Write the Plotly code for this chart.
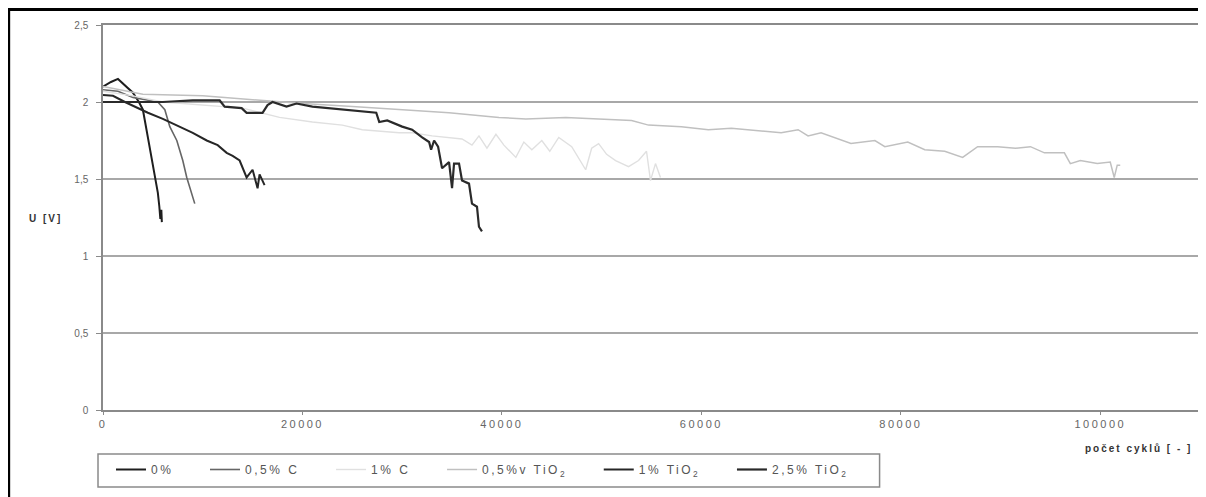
import plotly.graph_objects as go

# ---- data ----
names = ["0%", "0,5% C", "1% C", "0,5%v TiO<sub>2</sub>", "1% TiO<sub>2</sub>", "2,5% TiO<sub>2</sub>"]

x_0 = [0, 800, 1500, 2200, 3000, 3600, 4000, 4500, 5000, 5200, 5500, 5650, 5750, 5850, 5900]
u_0 = [2.10, 2.13, 2.15, 2.11, 2.06, 2.00, 1.95, 1.77, 1.60, 1.51, 1.41, 1.32, 1.24, 1.30, 1.22]

x_05C = [0, 1500, 3000, 4500, 5500, 6200, 6700, 7400, 7700, 8000, 8400, 8800, 9200]
u_05C = [2.08, 2.07, 2.03, 2.01, 2.00, 1.95, 1.84, 1.75, 1.69, 1.62, 1.51, 1.42, 1.34]

x_1C = [0, 3000, 6000, 10000, 14000, 17700, 21000, 24000, 26000, 29700, 31000, 33000,
        34400, 36000, 37000, 37700, 38500, 39400, 40200, 41400, 42200, 43000, 44000,
        44800, 45700, 47000, 48400, 49000, 49700, 50500, 51400, 52700, 53700, 54500,
        54900, 55400, 55900]
u_1C = [2.07, 2.04, 2.00, 1.98, 1.96, 1.90, 1.87, 1.85, 1.82, 1.80, 1.80, 1.78,
        1.77, 1.76, 1.72, 1.78, 1.70, 1.79, 1.72, 1.64, 1.74, 1.69, 1.75,
        1.68, 1.77, 1.71, 1.56, 1.70, 1.73, 1.66, 1.62, 1.58, 1.62, 1.68,
        1.49, 1.60, 1.51]

x_05T = [0, 4000, 10000, 14000, 20000, 25000, 29700, 34700, 39700, 42400, 46400, 50000,
         53000, 54700, 58000, 60700, 63000, 68000, 69700, 70700, 72000, 75000, 77400,
         78400, 80700, 82400, 84400, 86200, 87700, 89700, 91500, 93000, 94400, 96400,
         97000, 98000, 99700, 101000, 101400, 101700, 102000]
u_05T = [2.10, 2.05, 2.04, 2.02, 1.99, 1.97, 1.95, 1.93, 1.90, 1.89, 1.90, 1.89,
         1.88, 1.85, 1.84, 1.82, 1.83, 1.80, 1.82, 1.78, 1.80, 1.73, 1.75,
         1.71, 1.74, 1.69, 1.68, 1.64, 1.71, 1.71, 1.70, 1.71, 1.67, 1.67,
         1.60, 1.62, 1.60, 1.61, 1.51, 1.59, 1.59]

x_1T = [0, 1000, 2200, 3500, 4500, 6000, 7700, 9000, 10400, 11500, 12400, 13000,
        13700, 14400, 15000, 15500, 15700, 16200]
u_1T = [2.045, 2.04, 2.00, 1.96, 1.93, 1.89, 1.84, 1.80, 1.75, 1.72, 1.67, 1.65,
        1.62, 1.51, 1.56, 1.44, 1.53, 1.46]

x_25T = [0, 3000, 6000, 9000, 11700, 12200, 13900, 14400, 16000, 16500, 17000, 18400,
         19400, 21000, 24400, 27400, 27700, 28500, 30000, 31000, 32000, 32700, 32900,
         33200, 33600, 34000, 34700, 35000, 35200, 35700, 36000, 36700, 37000, 37500,
         37700, 38000]
u_25T = [2.00, 2.00, 2.00, 2.01, 2.01, 1.97, 1.96, 1.93, 1.93, 1.98, 2.00, 1.97,
         1.99, 1.97, 1.95, 1.93, 1.87, 1.88, 1.84, 1.82, 1.77, 1.74, 1.69,
         1.75, 1.71, 1.57, 1.61, 1.44, 1.60, 1.60, 1.49, 1.47, 1.34, 1.32,
         1.19, 1.16]

xs = [x_0, x_05C, x_1C, x_05T, x_1T, x_25T]
us = [u_0, u_05C, u_1C, u_05T, u_1T, u_25T]
colors = ["#1e1e1e", "#666666", "#e0e0e0", "#c0c0c0", "#262626", "#2a2a2a"]
widths = [2, 1.6, 1.4, 1.5, 2, 2.2]

x_ticks = [0, 20000, 40000, 60000, 80000, 100000]
y_ticks = [0, 0.5, 1, 1.5, 2, 2.5]
y_ticklabels = ["0", "0,5", "1", "1,5", "2", "2,5"]

NBSP = "\u00a0"


def spaced(txt, ls):
    return '<span style="letter-spacing:%spx">%s</span>' % (ls, txt)


fig = go.Figure()
for i, (n, x, u, c, w) in enumerate(zip(names, xs, us, colors, widths)):
    pad = NBSP * 8 if i < len(names) - 1 else ""
    fig.add_trace(go.Scatter(x=x, y=u, mode="lines", name=spaced(n, 2.5) + pad,
                             line=dict(color=c, width=w)))

FONT = "Liberation Sans, Arial, sans-serif"
# the page body has an 8 px margin: figure origin sits at (8, 8) of the window
OFF = 8
W, H = 1198, 489
L, R, T, B = 103 - OFF, 4, 25 - OFF, 87
pw = W - L - R
ph = H - T - B


def px_x(p):
    return (p - OFF - L) / pw


def px_y(p):
    return (H - B - (p - OFF)) / ph


fig.update_layout(
    width=W, height=H,
    margin=dict(l=L, r=R, t=T, b=B),
    paper_bgcolor="white", plot_bgcolor="white",
    font=dict(family=FONT, size=10, color="#555555"),
    showlegend=True,
    legend=dict(orientation="h", x=px_x(111), y=px_y(455), xanchor="left", yanchor="top",
                borderwidth=0, bgcolor="rgba(0,0,0,0)",
                font=dict(family=FONT, size=12, color="#555555")),
    xaxis=dict(range=[0, 110000], tickvals=x_ticks,
               ticktext=[spaced(str(v), 2.5) for v in x_ticks],
               showgrid=False, zeroline=False, showline=True, linecolor="#8a8a8a",
               linewidth=1.5, mirror=True, ticks="outside", ticklen=3,
               tickcolor="#8a8a8a", tickfont=dict(size=11, color="#666666")),
    yaxis=dict(range=[0, 2.5], tickvals=y_ticks, ticktext=y_ticklabels,
               showgrid=True, gridcolor="#a8a8a8", gridwidth=1.5, zeroline=False,
               showline=True, linecolor="#8a8a8a", linewidth=1.5, mirror=True,
               ticks="outside", ticklen=5, tickcolor="#8a8a8a", ticklabelstandoff=6,
               tickfont=dict(size=10, color="#666666")),
    annotations=[
        dict(text="<b>" + spaced("počet cyklů [ - ]", 2) + "</b>", xref="paper", yref="paper",
             x=px_x(1196), y=px_y(448), xanchor="right", yanchor="middle",
             showarrow=False, font=dict(family=FONT, size=10, color="#333333")),
        dict(text="<b>" + spaced("U [V]", 2) + "</b>", xref="paper", yref="paper",
             x=px_x(27), y=px_y(218), xanchor="left", yanchor="middle",
             showarrow=False, font=dict(family=FONT, size=10, color="#333333")),
    ],
    shapes=[
        # legend frame
        dict(type="rect", xref="paper", yref="paper", x0=px_x(98), x1=px_x(881),
             y0=px_y(487), y1=px_y(454), line=dict(color="#8a8a8a", width=1.5),
             layer="below"),
        # right edge of the plot frame
        dict(type="line", xref="paper", yref="paper", x0=1, x1=1, y0=0, y1=1,
             line=dict(color="#8a8a8a", width=1.5)),
        # outer black frame (left and top edges)
        dict(type="line", xref="paper", yref="paper", x0=px_x(8.5), x1=px_x(8.5),
             y0=px_y(8), y1=px_y(520), line=dict(color="black", width=3)),
        dict(type="line", xref="paper", yref="paper", x0=px_x(7), x1=px_x(1220),
             y0=px_y(9.5), y1=px_y(9.5), line=dict(color="black", width=3)),
    ],
)

fig.write_html("out.html",
               post_script="document.documentElement.style.overflow='hidden';"
                           "document.body.style.overflow='hidden';")
